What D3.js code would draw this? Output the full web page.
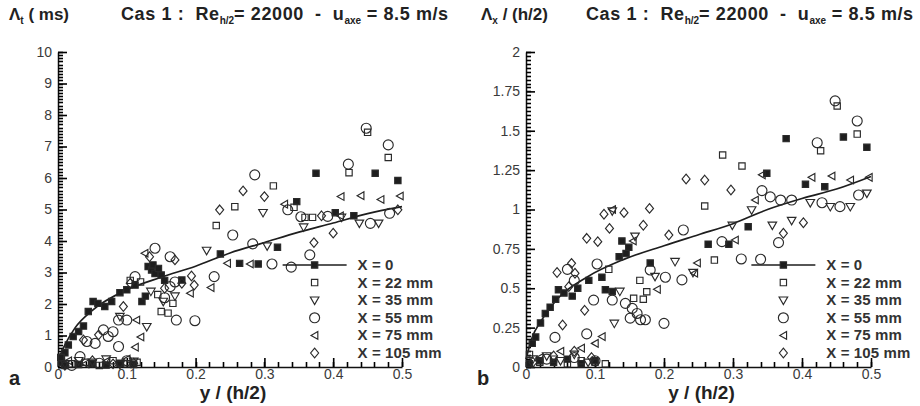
<!DOCTYPE html>
<html>
<head>
<meta charset="utf-8">
<script src="https://cdn.jsdelivr.net/npm/d3@7"></script>
<style>
 body { margin: 0; background: #fff; }
 svg { display: block; font-family: "Liberation Sans", Arial, sans-serif; }
 .axis path { stroke: #111; stroke-width: 1.5; }
 .axis line { stroke: #000; stroke-width: 1.6; }
 .axis text { fill: #3a3a3a; font-size: 14px; }
 .tk { stroke: #000; stroke-width: 1.6; }
</style>
</head>
<body>
<div id="container"></div>
<script>
 //-----------------------------DATA------------------------------//
 var xTicks = [0, 0.1, 0.2, 0.3, 0.4, 0.5];
 var xTickLabels = ["0", "0.1", "0.2", "0.3", "0.4", "0.5"];
 var ltTicks = [0, 1, 2, 3, 4, 5, 6, 7, 8, 9, 10];
 var ltTickLabels = ["0", "1", "2", "3", "4", "5", "6", "7", "8", "9", "10"];
 var lxTicks = [0, 0.25, 0.5, 0.75, 1, 1.25, 1.5, 1.75, 2];
 var lxTickLabels = ["0", "0.25", "0.5", "0.75", "1", "1.25", "1.5", "1.75", "2"];

 var seriesNames = ["X = 0", "X = 22 mm", "X = 35 mm", "X = 55 mm", "X = 75 mm", "X = 105 mm"];
 var seriesShapes = ["fsquare", "square", "tridown", "circle", "trileft", "diamond"];

 // panel a : Lambda_t (ms) vs y/(h/2)
 var lt_fit = [[0,0.2],[0.01,0.7],[0.025,1.25],[0.05,1.8],[0.1,2.45],[0.15,2.85],[0.2,3.2],
   [0.25,3.62],[0.3,3.95],[0.35,4.28],[0.4,4.57],[0.45,4.87],[0.5,5.09]];
 var lt_x0 = [[0.005,0.15],[0.01,0.45],[0.015,0.7],[0.022,0.97],[0.03,1.13],[0.037,1.3],[0.044,1.76],
   [0.051,2.08],[0.058,2.02],[0.068,1.92],[0.078,2.08],[0.09,2.36],[0.1,2.45],[0.112,2.6],[0.122,2.08],
   [0.127,2.25],[0.131,3.19],[0.136,3.08],[0.138,3.24],[0.141,2.97],[0.146,3.13],[0.15,2.92],[0.155,2.75],
   [0.18,2.76],[0.236,3.59],[0.264,3.29],[0.291,3.27],[0.319,3.8],[0.347,5.25],[0.375,6.15],[0.403,4.9],
   [0.43,4.8],[0.461,6.15],[0.494,5.92],
   [0.004,0.3],[0.01,0.05],[0.03,0.08],[0.05,0.1],[0.07,0.06],[0.09,0.12],[0.11,0.08]];
 var lt_x22 = [[0.45,7.45],[0.48,6.65],[0.423,6.17],[0.313,5.75],[0.257,5.09],[0.23,4.49],[0.343,5.07],
   [0.359,4.75],[0.37,4.75],[0.15,1.76],[0.16,1.71],[0.167,2.02],[0.145,2.3],[0.12,2.7],[0.105,2.75],
   [0.005,0.3],[0.02,0.1],[0.04,0.15],[0.06,0.05],[0.08,0.2],[0.1,0.1],[0.115,0.15]];
 var lt_x35 = [[0.298,4.9],[0.357,4.44],[0.216,3.7],[0.304,3.84],[0.438,4.56],[0.466,4.56],[0.412,4.75],
   [0.129,1.28],[0.153,2.08],[0.17,2.25],[0.135,2.4],[0.09,1.6],
   [0.01,0.1],[0.03,0.2],[0.05,0.15],[0.07,0.25],[0.09,0.08],[0.11,0.18]];
 var lt_x55 = [[0.448,7.58],[0.48,7.05],[0.422,6.44],[0.286,6.1],[0.254,4.19],[0.283,3.91],[0.366,3.56],
   [0.334,4.99],[0.353,4.77],[0.392,4.78],[0.454,4.56],[0.482,4.88],[0.311,3.27],[0.339,3.17],[0.227,2.87],
   [0.141,3.77],[0.163,3.5],[0.112,2.87],[0.163,2.55],[0.172,1.49],[0.199,1.47],[0.088,1.49],[0.1,1.49],
   [0.066,1.18],[0.073,0.97],[0.08,1.12],[0.042,0.81],[0.054,0.75],[0.088,0.65],[0.032,0.33],[0.17,2.7],
   [0.155,2.2],[0.02,0.05],[0.06,0.12],[0.1,0.2]];
 var lt_x75 = [[0.411,5.41],[0.44,5.44],[0.469,5.32],[0.497,5.43],[0.329,5.17],[0.41,4.8],[0.246,3.29],
   [0.279,3.27],[0.222,2.52],[0.192,2.34],[0.126,3.61],[0.114,1.49],[0.112,0.63],[0.12,0.95],
   [0.015,0.2],[0.04,0.1],[0.07,0.18],[0.1,0.25]];
 var lt_x105 = [[0.269,5.59],[0.3,5.41],[0.235,4.99],[0.4,4.25],[0.372,3.95],[0.494,4.99],[0.383,4.8],
   [0.133,3.5],[0.17,3.4],[0.105,2.66],[0.194,2.89],[0.198,2.6],[0.18,2.66],[0.095,1.92],[0.059,1.02],
   [0.037,0.86],[0.155,2.5],[0.01,0.05],[0.05,0.2],[0.08,0.1],[0.11,0.12]];

 // panel b : Lambda_x / (h/2) vs y/(h/2)
 var lx_fit = [[0,0.05],[0.01,0.2],[0.02,0.28],[0.045,0.43],[0.09,0.575],[0.14,0.68],[0.2,0.77],
   [0.25,0.84],[0.3,0.91],[0.35,1.0],[0.4,1.07],[0.45,1.13],[0.5,1.21]];
 var lx_x0 = [[0.005,0.02],[0.02,0.04],[0.04,0.03],[0.06,0.05],[0.08,0.02],[0.1,0.04],
   [0.009,0.15],[0.014,0.19],[0.021,0.28],[0.028,0.34],[0.035,0.38],[0.043,0.43],[0.047,0.49],
   [0.055,0.47],[0.067,0.45],[0.075,0.5],[0.091,0.55],[0.11,0.57],[0.115,0.49],[0.125,0.48],
   [0.139,0.8],[0.149,0.76],[0.145,0.72],[0.135,0.7],[0.18,0.66],[0.264,0.78],[0.294,0.78],
   [0.322,0.89],[0.349,1.23],[0.377,1.45],[0.405,1.16],[0.433,1.145],[0.46,1.46],[0.494,1.395]];
 var lx_x22 = [[0.451,1.657],[0.48,1.479],[0.427,1.373],[0.285,1.346],[0.313,1.276],[0.259,1.022],
   [0.273,0.679],[0.175,0.478],[0.17,0.43],[0.156,0.436],[0.165,0.55],[0.12,0.62],
   [0.005,0.08],[0.02,0.03],[0.04,0.05],[0.06,0.02],[0.08,0.04],[0.1,0.03],[0.115,0.02]];
 var lx_x35 = [[0.412,1.043],[0.441,1.018],[0.47,1.018],[0.494,1.103],[0.327,0.997],[0.299,0.9],
   [0.357,0.9],[0.385,0.93],[0.158,0.83],[0.187,0.574],[0.216,0.669],[0.128,0.277],[0.125,0.99],
   [0.136,0.48],[0.242,0.6],[0.01,0.05],[0.03,0.07],[0.05,0.04],[0.07,0.08],[0.09,0.03]];
 var lx_x55 = [[0.448,1.69],[0.48,1.562],[0.422,1.424],[0.342,1.12],[0.354,1.08],[0.369,1.06],
   [0.385,1.06],[0.429,1.043],[0.455,1.018],[0.482,1.092],[0.366,0.79],[0.228,0.87],[0.284,0.796],
   [0.312,0.686],[0.34,0.684],[0.18,0.616],[0.202,0.57],[0.226,0.553],[0.103,0.654],[0.098,0.425],
   [0.125,0.425],[0.144,0.404],[0.154,0.372],[0.161,0.34],[0.151,0.31],[0.166,0.3],[0.173,0.3],
   [0.2,0.277],[0.088,0.21],[0.042,0.188],[0.07,0.55],[0.06,0.62],[0.03,0.05],[0.07,0.06],[0.1,0.04]];
 var lx_x75 = [[0.342,1.22],[0.414,1.204],[0.443,1.213],[0.47,1.187],[0.497,1.204],[0.332,1.06],
   [0.303,0.806],[0.248,0.66],[0.19,0.493],[0.244,0.595],[0.125,1.0],[0.11,0.193],[0.155,0.8],
   [0.02,0.06],[0.05,0.1],[0.08,0.12],[0.1,0.15]];
 var lx_x105 = [[0.232,1.194],[0.259,1.187],[0.297,1.124],[0.179,1.007],[0.113,0.97],[0.142,0.98],
   [0.121,0.88],[0.17,0.9],[0.207,0.838],[0.373,0.849],[0.402,0.916],[0.088,0.817],[0.104,0.796],
   [0.066,0.658],[0.071,0.595],[0.062,0.51],[0.053,0.267],[0.085,0.36],[0.045,0.6],
   [0.01,0.03],[0.04,0.07],[0.07,0.1],[0.095,0.06]];

 //----------------------------SETUP------------------------------//
 var width = 920;
 var height = 406;

 var svg = d3.select("div#container").append("svg")
     .attr("width", width)
     .attr("height", height);

 function symbolPath(shape) {
   if (shape == "square" || shape == "fsquare") return d3.symbol(d3.symbolSquare, 40)();
   if (shape == "circle") return d3.symbol(d3.symbolCircle, 78)();
   if (shape == "diamond") return "M0,-4.8L4,0L0,4.8L-4,0Z";
   if (shape == "tridown") return "M-4.3,-3.2L4.3,-3.2L0,4.3Z";
   return "M-3.6,0L3.2,-3.8L3.2,3.8Z"; // trileft
 }

 var panels = [
   { left: 58, right: 402, ymax: 10, ticks: ltTicks, labels: ltTickLabels, minor: 0.1,
     fit: lt_fit, series: [lt_x0, lt_x22, lt_x35, lt_x55, lt_x75, lt_x105],
     ylab: ["\u039B", "t", " ( ms)"], letter: "a", title: 121, ylabX: 9 },
   { left: 526, right: 871, ymax: 2, ticks: lxTicks, labels: lxTickLabels, minor: 0.025,
     fit: lx_fit, series: [lx_x0, lx_x22, lx_x35, lx_x55, lx_x75, lx_x105],
     ylab: ["\u039B", "x", " / (h/2)"], letter: "b", title: 586, ylabX: 481 }
 ];

 //-------------------------DRAWING-------------------------------//
 panels.forEach(function(p) {
   var xScale = d3.scaleLinear().domain([0, 0.5]).range([p.left, p.right]);
   var yScale = d3.scaleLinear().domain([0, p.ymax]).range([367, 52]);

   // axes with labels (domain line + major tick labels)
   svg.append("g")
     .attr("class", "axis")
     .attr("transform", "translate(" + p.left + ",0)")
     .call(d3.axisLeft(yScale).tickValues(p.ticks).tickSize(-9).tickSizeOuter(0).tickPadding(6)
       .tickFormat(function(d, i) { return p.labels[i]; }));
   svg.append("g")
     .attr("class", "axis")
     .attr("transform", "translate(0,367)")
     .call(d3.axisBottom(xScale).tickValues(xTicks).tickSize(-9).tickSizeOuter(0).tickPadding(2)
       .tickFormat(function(d, i) { return xTickLabels[i]; }));

   // inward minor tick marks, drawn from the scales
   var yMinor = d3.range(0, Math.round(p.ymax / p.minor) + 1).map(function(i) { return i * p.minor; });
   var xMinor = d3.range(0, 26).map(function(i) { return i * 0.02; });
   var tg = svg.append("g");
   tg.selectAll(".ym").data(yMinor).enter().append("line")
     .attr("class", "tk")
     .attr("x1", p.left).attr("x2", p.left + 5)
     .attr("y1", function(d) { return Math.round(yScale(d)) + 0.5; })
     .attr("y2", function(d) { return Math.round(yScale(d)) + 0.5; });
   tg.selectAll(".xm").data(xMinor).enter().append("line")
     .attr("class", "tk")
     .attr("y1", 367).attr("y2", 362)
     .attr("x1", function(d) { return Math.round(xScale(d)) + 0.5; })
     .attr("x2", function(d) { return Math.round(xScale(d)) + 0.5; });

   // fitted curve
   var line = d3.line()
     .x(function(d) { return xScale(d[0]); })
     .y(function(d) { return yScale(d[1]); })
     .curve(d3.curveMonotoneX);

   svg.append("path")
     .attr("d", line(p.fit))
     .style("fill", "none")
     .style("stroke", "#1e1e1e")
     .style("stroke-width", 1.7);

   // points
   p.series.forEach(function(s, k) {
     var shape = seriesShapes[k];
     svg.append("g").selectAll("path")
       .data(s)
       .enter()
       .append("path")
       .attr("d", symbolPath(shape))
       .attr("transform", function(d) { return "translate(" + xScale(d[0]) + "," + yScale(d[1]) + ")"; })
       .style("fill", shape == "fsquare" ? "#1e1e1e" : "none")
       .style("stroke", "#2a2a2a")
       .style("stroke-width", 1.15);
   });

   // legend
   var lx = xScale(0.373);
   var leg = svg.append("g");
   seriesNames.forEach(function(name, k) {
     var ly = 265 + k * 17.6;
     if (k == 0) {
       leg.append("line")
         .attr("x1", lx - 32).attr("x2", lx + 32)
         .attr("y1", ly).attr("y2", ly)
         .style("stroke", "#1e1e1e").style("stroke-width", 1.7);
     }
     leg.append("path")
       .attr("d", symbolPath(seriesShapes[k]))
       .attr("transform", "translate(" + lx + "," + ly + ")")
       .style("fill", seriesShapes[k] == "fsquare" ? "#1e1e1e" : "none")
       .style("stroke", "#2a2a2a")
       .style("stroke-width", 1.15);
     leg.append("text")
       .attr("x", lx + 43)
       .attr("y", ly + 5)
       .style("font-size", "15px")
       .style("font-weight", "bold")
       .style("letter-spacing", "0.1px")
       .style("fill", "#333")
       .style("white-space", "pre")
       .text(name);
   });

   // y label
   var yl = svg.append("text")
     .attr("x", p.ylabX)
     .attr("y", 20)
     .style("font-size", "17px")
     .style("font-weight", "bold")
     .style("fill", "#222")
     .style("white-space", "pre");
   yl.append("tspan").text(p.ylab[0]);
   yl.append("tspan").attr("dy", 4).style("font-size", "10px").text(p.ylab[1]);
   yl.append("tspan").attr("dy", -4).text(p.ylab[2]);

   // title
   var t = svg.append("text")
     .attr("x", p.title)
     .attr("y", 20)
     .style("font-size", "18px")
     .style("font-weight", "bold")
     .style("letter-spacing", "0.6px")
     .style("fill", "#222")
     .style("white-space", "pre");
   t.append("tspan").text("Cas 1 :  Re");
   t.append("tspan").attr("dy", 4).style("font-size", "10px").style("letter-spacing", "0px").text("h/2");
   t.append("tspan").attr("dy", -4).text("= 22000  -  u");
   t.append("tspan").attr("dy", 4).style("font-size", "10px").style("letter-spacing", "0px").text("axe");
   t.append("tspan").attr("dy", -4).text(" = 8.5 m/s");

   // x label
   svg.append("text")
     .attr("x", (p.left + p.right) / 2 + 3)
     .attr("y", 399)
     .style("text-anchor", "middle")
     .style("font-size", "19px")
     .style("font-weight", "bold")
     .style("fill", "#222")
     .text("y / (h/2)");

   // panel letter
   svg.append("text")
     .attr("x", p.left - 49)
     .attr("y", 385)
     .style("font-size", "20px")
     .style("font-weight", "bold")
     .style("fill", "#222")
     .text(p.letter);
 });
</script>
</body>
</html>
